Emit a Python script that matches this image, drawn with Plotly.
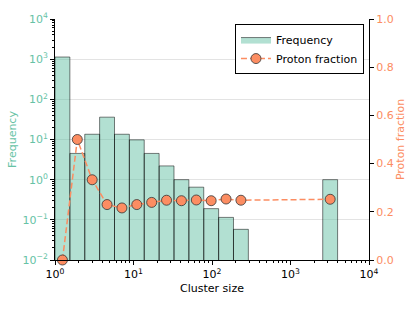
import plotly.graph_objects as go

# ---- data ----
bin_edges = [1.0, 1.547, 2.393, 3.702, 5.727, 8.859, 13.70, 21.20, 32.79, 50.73,
             78.48, 121.4, 187.8, 290.5, 449.4, 695.2, 1075.0, 1664.0, 2574.0, 3981.0]
frequency = [1130, 4.5, 13.5, 36, 13.5, 9.8, 4.5, 2.2, 1.0, 0.65,
             0.19, 0.115, 0.058, 0, 0, 0, 0, 0, 1.0]
proton_fraction = [0.0, 0.5, 0.333, 0.23, 0.216, 0.23, 0.239, 0.248, 0.246, 0.249,
                   0.246, 0.253, 0.248, None, None, None, None, None, 0.252]

x_ticks = [1, 10, 100, 1000, 10000]
x_tick_labels = ["10<sup>0</sup>", "10<sup>1</sup>", "10<sup>2</sup>", "10<sup>3</sup>", "10<sup>4</sup>"]
y_ticks = [1e-2, 1e-1, 1, 10, 100, 1000, 10000]
y_tick_labels = ["10<sup>\u22122</sup>", "10<sup>\u22121</sup>", "10<sup>0</sup>", "10<sup>1</sup>",
                 "10<sup>2</sup>", "10<sup>3</sup>", "10<sup>4</sup>"]
pf_ticks = [0.0, 0.2, 0.4, 0.6, 0.8, 1.0]

GREEN = "#66c2a5"
ORANGE = "#fc8d62"
FS = 11

# bars as rectangles on the log axes
floor = 1e-3
bx, by = [], []
for i, f in enumerate(frequency):
    if f > 0:
        e0, e1 = bin_edges[i], bin_edges[i + 1]
        bx += [e0, e0, e1, e1, e0, None]
        by += [floor, f, f, floor, floor, None]

centers = [(bin_edges[i] * bin_edges[i + 1]) ** 0.5 for i in range(len(frequency))]

minor_x = [m * 10 ** k for k in range(0, 4) for m in range(2, 10)]
minor_y = [m * 10.0 ** k for k in range(-2, 4) for m in range(2, 10)]

fig = go.Figure()
fig.add_trace(go.Scatter(
    x=bx, y=by, mode="lines", fill="toself",
    fillcolor="rgba(102,194,165,0.5)",
    line=dict(color="rgba(0,0,0,0.5)", width=1),
    name="Frequency", yaxis="y", hoverinfo="skip",
))
fig.add_trace(go.Scatter(
    x=centers, y=proton_fraction, mode="lines+markers", connectgaps=True,
    line=dict(color=ORANGE, width=1.5, dash="6px,3px"),
    marker=dict(size=10, color=ORANGE, line=dict(color="#333333", width=0.8)),
    name="Proton fraction", yaxis="y2", cliponaxis=False,
))

fig.update_layout(
    width=415, height=312,
    margin=dict(l=55, r=46, t=19, b=52, autoexpand=False),
    paper_bgcolor="white", plot_bgcolor="white",
    font=dict(family="DejaVu Sans", size=FS, color="black"),
    showlegend=True,
    legend=dict(x=0.984, y=0.979, xanchor="right", yanchor="top",
                bordercolor="black", borderwidth=1, bgcolor="white",
                font=dict(size=FS), tracegroupgap=0, itemwidth=30),
    xaxis=dict(
        type="log", range=[0, 4], tickmode="array", tickvals=x_ticks, ticktext=x_tick_labels,
        ticks="outside", ticklen=4, tickcolor="black", showline=True, linecolor="black",
        linewidth=1, showgrid=False, zeroline=False, automargin=False,
        minor=dict(tickmode="array", tickvals=minor_x, ticks="outside", ticklen=2,
                   tickcolor="black", showgrid=False),
        title=dict(text="Cluster size", standoff=4, font=dict(size=FS)),
        tickfont=dict(size=FS),
    ),
    yaxis=dict(
        type="log", range=[-2, 4], tickmode="array", tickvals=y_ticks, ticktext=y_tick_labels,
        ticks="outside", ticklen=4, tickcolor="black", showline=True, linecolor="black",
        linewidth=1, showgrid=True, gridcolor="#e3e3e3", gridwidth=1, zeroline=False,
        automargin=False,
        minor=dict(tickmode="array", tickvals=minor_y, ticks="outside", ticklen=2,
                   tickcolor="black", showgrid=False),
        tickfont=dict(color=GREEN, size=FS),
        title=dict(text="Frequency", standoff=3, font=dict(color=GREEN, size=FS)),
    ),
    yaxis2=dict(
        overlaying="y", side="right", range=[0, 1], tickmode="array", tickvals=pf_ticks,
        tickformat=".1f", ticks="outside", ticklen=4, tickcolor="black",
        showline=True, linecolor="black", linewidth=1, showgrid=False, zeroline=False,
        automargin=False,
        tickfont=dict(color=ORANGE, size=FS),
        title=dict(text="Proton fraction", standoff=0, font=dict(color=ORANGE, size=FS)),
    ),
)

fig.write_html("out.html", config={"displayModeBar": False},
               post_script="document.body.style.margin='0';")
